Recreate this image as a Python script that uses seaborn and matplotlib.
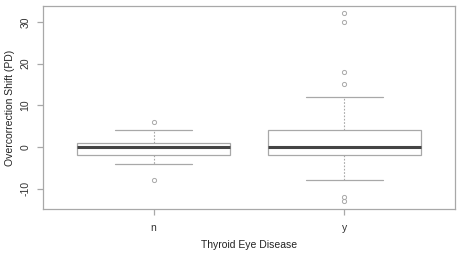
import numpy as np
import pandas as pd
import matplotlib
matplotlib.use("Agg")
import matplotlib.pyplot as plt
import seaborn as sns

# Data
groups = ["n", "y"]
shift_n = [-8, -4, -2, -2, -1, 0, 0, 0, 1, 1, 4, 6]
shift_y = [-13, -12, -8, -5, -2, -2, -2, -1, 0, 0, 0, 0, 1, 2, 4, 4, 4, 4, 12, 15, 18, 30, 32]
y_ticks = [-10, 0, 10, 20, 30]

df = pd.DataFrame({
    "group": ["n"] * len(shift_n) + ["y"] * len(shift_y),
    "shift": shift_n + shift_y,
})

sns.set_style("ticks")
plt.rcParams["font.family"] = ["Liberation Sans", "DejaVu Sans"]

fig = plt.figure(figsize=(4.62, 2.56), dpi=100)
ax = fig.add_axes([0.093, 0.184, 0.892, 0.793])

line_c = "#a8a8a8"
sns.boxplot(
    data=df, x="group", y="shift", order=groups, ax=ax,
    width=0.8, color="white", linecolor=line_c, linewidth=0.9,
    whis=1.5,
    boxprops=dict(facecolor="white", edgecolor=line_c),
    whiskerprops=dict(color=line_c, linestyle=(0, (1.5, 1.5)), linewidth=0.8),
    capprops=dict(color=line_c, linewidth=0.9),
    medianprops=dict(color="#444444", linewidth=2.2),
    flierprops=dict(marker="o", markerfacecolor="none", markeredgecolor=line_c,
                    markersize=3.0, markeredgewidth=0.7),
)

ax.set_xlim(-0.58, 1.58)
ax.set_ylim(-14.8, 33.8)
ax.set_yticks(y_ticks)
ax.set_yticklabels([str(t) for t in y_ticks], rotation=90, va="center")
for s in ax.spines.values():
    s.set_visible(True)
    s.set_color(line_c)
    s.set_linewidth(0.9)
ax.tick_params(axis="both", colors=line_c, labelcolor="#333333", labelsize=7.5,
               length=4, width=0.9)
ax.tick_params(axis="y", pad=5)
ax.tick_params(axis="x", pad=6)
ax.set_xlabel("Thyroid Eye Disease", fontsize=7.5, color="#222222", labelpad=5)
ax.set_ylabel("Overcorrection Shift (PD)", fontsize=7.5, color="#222222", labelpad=4)

fig.savefig("out.png", dpi=100, facecolor="white")
